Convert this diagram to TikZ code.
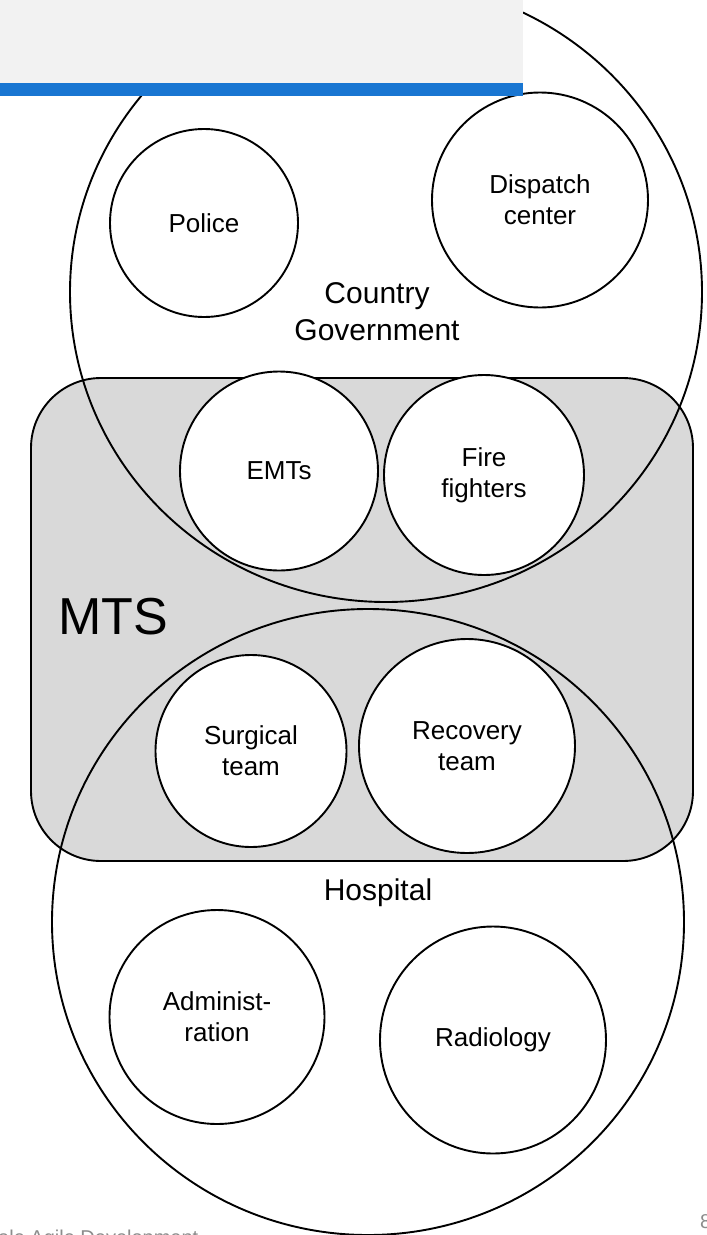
\documentclass[tikz,border=0pt]{standalone}
\usepackage{fontspec}
\setmainfont{Liberation Sans}
\usetikzlibrary{shapes.geometric}
\definecolor{bannergray}{HTML}{F2F2F2}
\definecolor{bannerblue}{HTML}{1976D2}
\definecolor{mtsgray}{HTML}{D9D9D9}
\definecolor{footgray}{HTML}{8C8C8C}
\tikzset{
  outline/.style={draw=black, line width=1.9pt},
  bigset/.style={outline, ellipse, inner sep=0pt, outer sep=0pt},
  unit/.style={outline, ellipse, fill=white, inner sep=0pt, outer sep=0pt,
    align=center, font=\fontsize{26}{31}\selectfont},
  setlabel/.style={align=center, font=\fontsize{30}{37}\selectfont},
  foot/.style={text=footgray, font=\fontsize{20}{24}\selectfont, inner sep=0pt}
}
\begin{document}
\begin{tikzpicture}[x=1pt, y=-1pt]
  \useasboundingbox (0,0) rectangle (707,1235);
  \clip (0,0) rectangle (707,1235);
  \fill[white] (0,0) rectangle (707,1235);

  % the multi-team system
  \node[outline, fill=mtsgray, rounded corners=70pt, minimum width=662pt,
        minimum height=483pt, inner sep=0pt, outer sep=0pt] (mts) at (362,619.5) {};
  \node[font=\fontsize{52}{60}\selectfont, inner sep=0pt] (mtsl) at (113,617) {MTS};

  % the two parent organisations
  \node[bigset, minimum width=632pt, minimum height=620pt] (cg) at (386,292) {};
  \node[bigset, minimum width=632pt, minimum height=626pt] (hosp) at (368,922) {};
  \node[setlabel] (cgl) at (377,312) {Country\\Government};
  \node[setlabel] (hospl) at (378,893) {Hospital};

  % component teams
  \node[unit, minimum width=188pt, minimum height=188pt] (police) at (204,223) {Police};
  \node[unit, minimum width=216pt, minimum height=215pt] (dispatch) at (540,200) {Dispatch\\center};
  \node[unit, minimum width=198pt, minimum height=199pt] (emts) at (279,471) {EMTs};
  \node[unit, minimum width=200pt, minimum height=200pt] (fire) at (484,475) {Fire\\fighters};
  \node[unit, minimum width=191pt, minimum height=192pt] (surg) at (251,751) {Surgical\\team};
  \node[unit, minimum width=216pt, minimum height=214pt] (recov) at (467,746) {Recovery\\team};
  \node[unit, minimum width=215pt, minimum height=214pt] (admin) at (217,1017) {Administ-\\ration};
  \node[unit, minimum width=226pt, minimum height=227pt] (radio) at (493,1040) {Radiology};

  % title banner
  \fill[bannergray] (0,0) rectangle (523,83);
  \fill[bannerblue] (0,83) rectangle (523,96);

  % footer
  \node[foot, anchor=base west] (footl) at (-2,1244) {ale Agile Development};
  \node[foot, anchor=base west] (pageno) at (700,1228) {8};
\end{tikzpicture}
\end{document}
